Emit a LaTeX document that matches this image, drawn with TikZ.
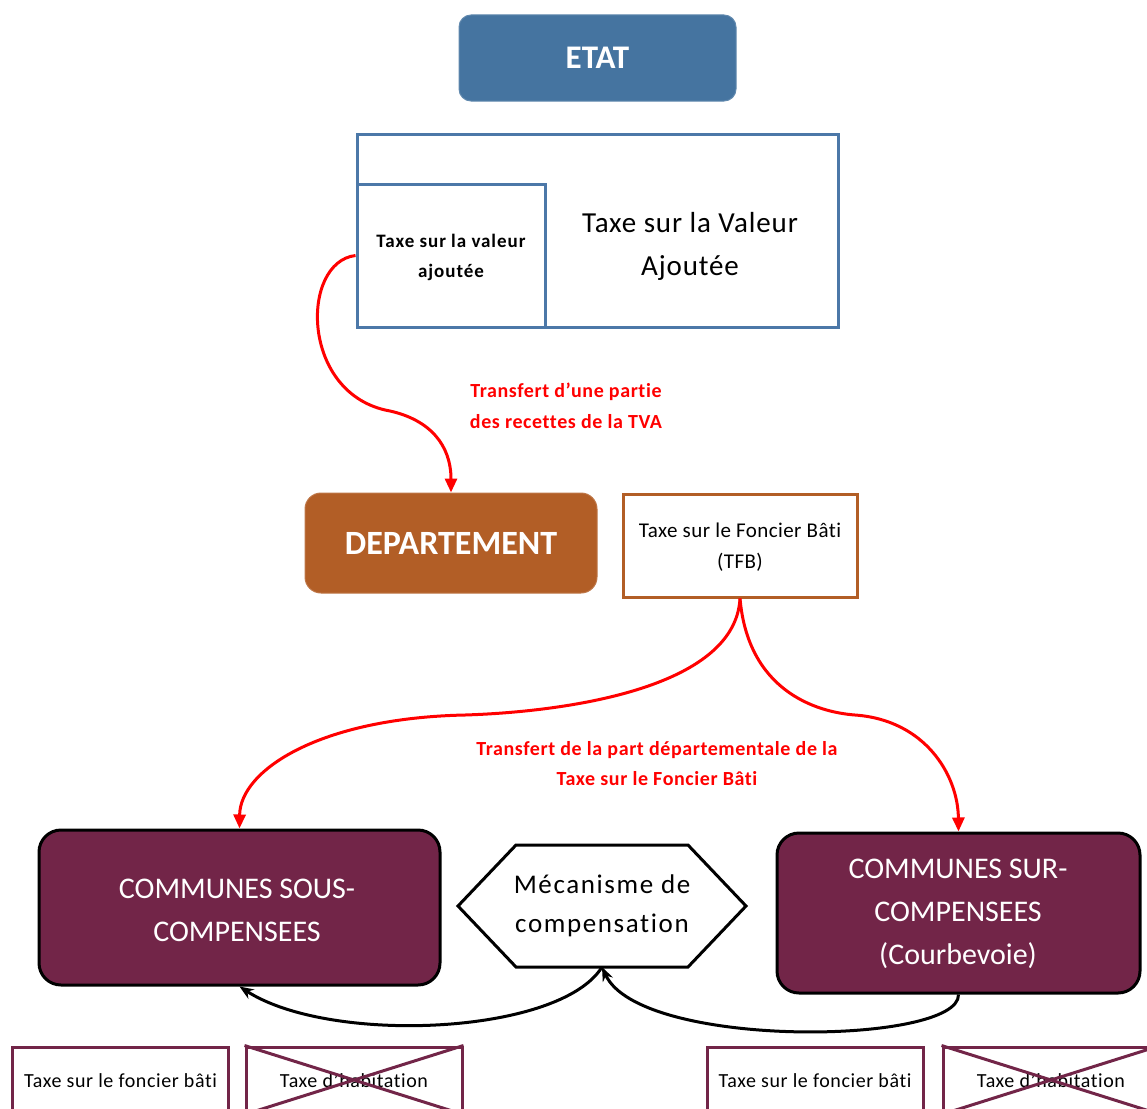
\documentclass[tikz,border=0pt]{standalone}
\usepackage{fontspec}
\setmainfont{Carlito}[Ligatures=CommonOff]
\usetikzlibrary{arrows.meta}
\definecolor{etatblue}{RGB}{69,116,160}
\definecolor{tvablue}{RGB}{76,120,168}
\definecolor{depbrown}{RGB}{178,94,38}
\definecolor{compurple}{RGB}{114,37,72}
\newcommand\myfs[2]{\fontsize{#1}{#2}\selectfont}
\newcommand\myls[1]{\addfontfeatures{LetterSpace=#1}}
\tikzset{
  etatbox/.style={rounded corners=12, fill=etatblue, draw=etatblue!85!white, line width=1, text=white,
    minimum width=277, minimum height=86, inner sep=0, font=\myfs{33}{38}\bfseries},
  tvabox/.style={draw=tvablue, line width=3, fill=white, inner sep=0},
  depbox/.style={rounded corners=16, fill=depbrown, draw=depbrown!85!white, line width=1, text=white,
    minimum width=292, minimum height=100, inner sep=0, font=\myfs{34}{40}\bfseries},
  tfbbox/.style={draw=depbrown, line width=3, fill=white, inner sep=0, minimum width=234, minimum height=103},
  combox/.style={rounded corners=22, fill=compurple, draw=black, line width=3, inner sep=0},
  comtext/.style={text=white, align=center, font=\myfs{30}{43}},
  redlabel/.style={text=red, align=center, font=\myfs{20}{30.5}\bfseries\myls{3}},
  smallbox/.style={draw=compurple, line width=3, minimum width=216, minimum height=66, inner sep=0},
  smalltext/.style={font=\myfs{20}{24}\myls{3}},
  redarrow/.style={draw=red, line width=3, -{Triangle[length=14pt,width=12pt]}},
  blackarrow/.style={draw=black, line width=3, -{Stealth[length=14pt,width=11pt]}},
}
\begin{document}
\begin{tikzpicture}[x=1pt,y=-1pt]
\clip (0,0) rectangle (1147,1108);
\useasboundingbox (0,0) rectangle (1147,1108);

% ETAT
\node[etatbox] (etat) at (597.5,58) {ETAT};

% TVA boxes
\node[tvabox, minimum width=481, minimum height=193] (tvaouter) at (597.5,230.5) {};
\node[tvabox, minimum width=188, minimum height=143] (tvainner) at (451,255.5) {};
\node[align=center, font=\myfs{19}{30}\bfseries\myls{5}] (tvasmall) at (451,257) {Taxe sur la valeur\\ajoutée};
\node[align=center, font=\myfs{29}{43}\myls{3}] (tvabig) at (690,246.5) {Taxe sur la Valeur\\Ajoutée};

% label 1
\node[redlabel] (lab1) at (566,406) {Transfert d’une partie\\des recettes de la TVA};

% DEPARTEMENT
\node[depbox] (dep) at (451,543) {DEPARTEMENT};

% TFB
\node[tfbbox] (tfb) at (740,545.5) {};
\node[align=center, font=\myfs{21}{31}\myls{2}] (tfbtext) at (740,547.5) {Taxe sur le Foncier Bâti\\(TFB)};

% label 2
\node[redlabel] (lab2) at (657,763.5) {Transfert de la part départementale de la\\Taxe sur le Foncier Bâti};

% Communes
\node[combox, minimum width=401, minimum height=155] (sous) at (239.5,907.5) {};
\node[comtext] (soustext) at (237,910.5) {COMMUNES SOUS-\\COMPENSEES};
\node[combox, minimum width=363, minimum height=160] (sur) at (958.5,913) {};
\node[comtext] (surtext) at (958,914) {COMMUNES SUR-\\COMPENSEES\\(Courbevoie)};

% hexagon
\draw[line width=3, fill=white, line join=miter] (458,906) -- (516,845) -- (688,845) -- (746,906) -- (688,967) -- (516,967) -- cycle;
\coordinate (hexb) at (602,967);
\node[align=center, font=\myfs{27}{39}\myls{6}] (meca) at (602,906) {Mécanisme de\\compensation};

% bottom boxes
\node[smallbox] (b1) at (120.5,1080) {};
\node[smalltext] (b1t) at (120.5,1081) {Taxe sur le foncier bâti};
\node[smallbox] (b2) at (354,1080) {};
\node[smalltext] (b2t) at (354,1081) {Taxe d’habitation};
\draw[compurple, line width=3] (b2.north west) -- (b2.south east) (b2.north east) -- (b2.south west);
\node[smallbox] (b3) at (815,1080) {};
\node[smalltext] (b3t) at (815,1081) {Taxe sur le foncier bâti};
\node[smallbox] (b4) at (1051,1080) {};
\node[smalltext] (b4t) at (1051,1081) {Taxe d’habitation};
\draw[compurple, line width=3] (b4.north west) -- (b4.south east) (b4.north east) -- (b4.south west);

% red arrows
\draw[redarrow] (tvainner.west) .. controls (300,262) and (300,395) .. (390,411) .. controls (430,420) and (451,445) .. (dep.north);
\draw[redarrow] (tfb.south) .. controls (735,690) and (560,712) .. (465,715) .. controls (320,718) and (240,770) .. (sous.north);
\draw[redarrow] (tfb.south) .. controls (748,690) and (815,712) .. (855,715) .. controls (925,720) and (958,775) .. (sur.north);

% black arrows
\draw[blackarrow] (hexb) .. controls (560,1035) and (330,1045) .. (sous.south);
\draw[blackarrow] (sur.south) .. controls (960,1045) and (640,1050) .. (hexb);
\end{tikzpicture}
\end{document}
